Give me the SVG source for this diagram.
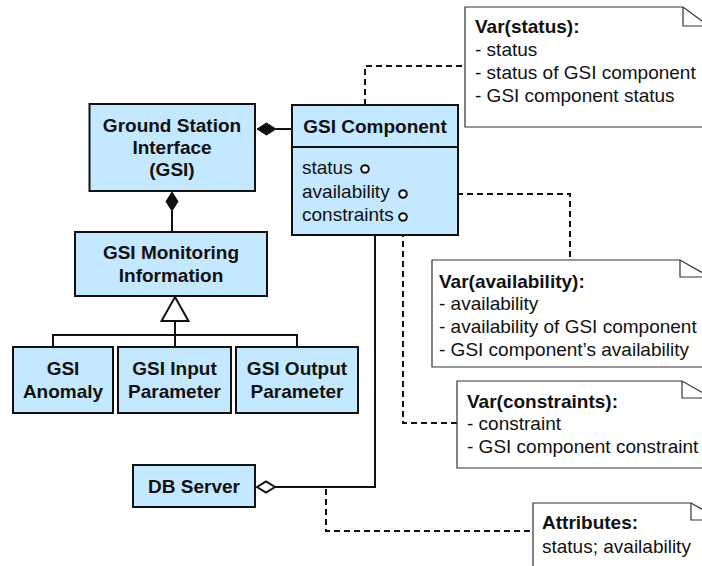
<svg xmlns="http://www.w3.org/2000/svg" width="702" height="566" viewBox="0 0 702 566">
  <style>
    .cls { fill: #C4E8FF; stroke: #111; stroke-width: 2; }
    .note { fill: #fff; stroke: #333; stroke-width: 1.2; }
    .fold { fill: none; stroke: #333; stroke-width: 1.2; }
    .t { font-family: "Liberation Sans", Arial, Helvetica, sans-serif; font-size: 19px; fill: #111; }
    .b { font-weight: bold; }
    .c { text-anchor: middle; }
    .line { fill: none; stroke: #111; stroke-width: 2; }
    .dash { fill: none; stroke: #111; stroke-width: 2; stroke-dasharray: 6 4; }
    .port { fill: #fff; stroke: #111; stroke-width: 2; }
  </style>
  <rect width="702" height="566" fill="#fff"/>

  <!-- connectors -->
  <g id="connectors">
    <!-- composition: GSI <- GSI Component -->
    <line class="line" x1="276" y1="129" x2="292" y2="129"/>
    <polygon points="257,129 266.5,123 276,129 266.5,135" fill="#111" stroke="#111" stroke-width="1"/>
    <!-- composition: GSI <- GSI Monitoring Information -->
    <line class="line" x1="172" y1="211" x2="172" y2="232"/>
    <polygon points="172,192 178,201.5 172,211 166,201.5" fill="#111" stroke="#111" stroke-width="1"/>
    <!-- generalization -->
    <polyline class="line" points="53,347 53,335 297,335 297,347"/>
    <line class="line" x1="175" y1="321" x2="175" y2="347"/>
    <polygon points="175,297 188.5,321 161.5,321" fill="#fff" stroke="#111" stroke-width="2"/>
    <!-- aggregation: DB Server <- GSI Component -->
    <polyline class="line" points="275,487 375,487 375,235"/>
    <polygon points="257,487 266,481.5 275,487 266,492.5" fill="#fff" stroke="#111" stroke-width="2"/>
    <!-- note anchors -->
    <polyline class="dash" points="365,165 365,66 465,66"/>
    <polyline class="dash" points="407,194 570,194 570,260"/>
    <polyline class="dash" points="403,221 403,423 457,423"/>
    <polyline class="dash" points="326,489 326,531 533,531"/>
  </g>

  <g id="gsi">
    <rect class="cls" x="89.5" y="104" width="165.5" height="87"/>
    <text class="t b c" x="172" y="132">Ground Station</text>
    <text class="t b c" x="172" y="154">Interface</text>
    <text class="t b c" x="172" y="176">(GSI)</text>
  </g>

  <g id="gsi-component">
    <rect class="cls" x="292" y="105" width="166" height="130"/>
    <line class="line" x1="292" y1="147" x2="458" y2="147"/>
    <text class="t b c" x="375" y="133">GSI Component</text>
    <text class="t" x="302" y="174">status</text>
    <text class="t" x="302" y="198">availability</text>
    <text class="t" x="302" y="221">constraints</text>
    <circle class="port" cx="365" cy="169" r="3.8"/>
    <circle class="port" cx="403" cy="194" r="3.8"/>
    <circle class="port" cx="403" cy="217" r="3.8"/>
  </g>

  <g id="gsi-monitoring">
    <rect class="cls" x="75" y="232" width="192" height="64"/>
    <text class="t b c" x="171" y="259">GSI Monitoring</text>
    <text class="t b c" x="171" y="282">Information</text>
  </g>

  <g id="gsi-anomaly">
    <rect class="cls" x="13" y="347" width="100" height="66"/>
    <text class="t b c" x="63" y="375">GSI</text>
    <text class="t b c" x="63" y="398">Anomaly</text>
  </g>

  <g id="gsi-input">
    <rect class="cls" x="118" y="347" width="113" height="66"/>
    <text class="t b c" x="174.5" y="375">GSI Input</text>
    <text class="t b c" x="174.5" y="398">Parameter</text>
  </g>

  <g id="gsi-output">
    <rect class="cls" x="236" y="347" width="122" height="66"/>
    <text class="t b c" x="297" y="375">GSI Output</text>
    <text class="t b c" x="297" y="398">Parameter</text>
  </g>

  <g id="db-server">
    <rect class="cls" x="133" y="465" width="122" height="42"/>
    <text class="t b c" x="194" y="493">DB Server</text>
  </g>

  <g id="note-status">
    <path class="note" d="M465,7 H683 L709,26 V127 H465 Z"/>
    <path class="fold" d="M683,7 V26 H709"/>
    <text class="t b" x="475" y="33">Var(status):</text>
    <text class="t" x="475" y="56">- status</text>
    <text class="t" x="475" y="79">- status of GSI component</text>
    <text class="t" x="475" y="102">- GSI component status</text>
  </g>

  <g id="note-availability">
    <path class="note" d="M432,260 H680 L710,277 V367 H432 Z"/>
    <path class="fold" d="M680,260 V277 H710"/>
    <text class="t b" x="439" y="288">Var(availability):</text>
    <text class="t" x="439" y="310">- availability</text>
    <text class="t" x="439" y="333">- availability of GSI component</text>
    <text class="t" x="439" y="356">- GSI component’s availability</text>
  </g>

  <g id="note-constraints">
    <path class="note" d="M457,381 H682 L712,398 V468 H457 Z"/>
    <path class="fold" d="M682,381 V398 H712"/>
    <text class="t b" x="467" y="408">Var(constraints):</text>
    <text class="t" x="467" y="430">- constraint</text>
    <text class="t" x="467" y="453">- GSI component constraint</text>
  </g>

  <g id="note-attributes">
    <path class="note" d="M533,503 H691 L721,520 V580 H533 Z"/>
    <path class="fold" d="M691,503 V520 H721"/>
    <text class="t b" x="542" y="529">Attributes:</text>
    <text class="t" x="542" y="553">status; availability</text>
  </g>
</svg>
